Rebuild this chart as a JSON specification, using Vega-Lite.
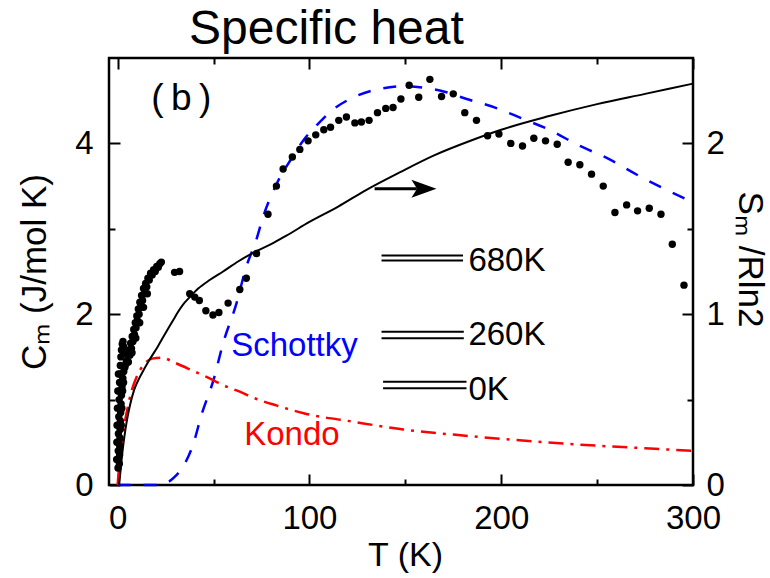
{
  "$schema": "https://vega.github.io/schema/vega-lite/v6.json",
  "width": 584,
  "height": 427,
  "autosize": "none",
  "padding": {"left": 109, "top": 58, "right": 77, "bottom": 93},
  "background": "white",
  "config": {
    "view": {"stroke": "black", "strokeWidth": 2.5},
    "font": "Liberation Sans",
    "axis": {
      "domain": false, "grid": false, "tickColor": "black", "tickWidth": 2,
      "labelColor": "black", "labelFont": "Liberation Sans", "labelFontSize": 33,
      "labelFlush": false, "labelOverlap": false,
      "titleFont": "Liberation Sans", "titleFontSize": 34, "titleFontWeight": "normal", "titleColor": "black"
    }
  },
  "title": {"text": "Specific heat", "fontSize": 48, "font": "Liberation Sans", "fontWeight": "normal", "color": "black", "anchor": "start", "frame": "group", "dx": 80, "dy": 50, "baseline": "alphabetic", "offset": 15},
  "datasets": {
    "points": [
      {"T":0.2,"C":0.2},{"T":0.3,"C":0.3},{"T":0.3,"C":0.4},{"T":0.4,"C":0.5},{"T":0.4,"C":0.6},{"T":0.5,"C":0.7},{"T":0.6,"C":0.8},{"T":0.7,"C":0.9},{"T":0.8,"C":1.0},{"T":0.9,"C":1.1},{"T":1.0,"C":1.2},{"T":1.2,"C":1.3},{"T":1.4,"C":1.4},{"T":1.7,"C":1.5},{"T":2.0,"C":1.58},{"T":2.4,"C":1.65},{"T":2.8,"C":1.68},{"T":3.1,"C":1.62},{"T":3.3,"C":1.54},
      {"T":0.9,"C":0.25},{"T":1.0,"C":0.35},{"T":1.1,"C":0.45},{"T":1.2,"C":0.55},{"T":1.3,"C":0.65},{"T":1.4,"C":0.75},{"T":1.6,"C":0.85},{"T":1.8,"C":0.95},{"T":2.0,"C":1.05},{"T":2.3,"C":1.15},{"T":2.7,"C":1.25},{"T":3.2,"C":1.33},{"T":3.8,"C":1.38},{"T":4.4,"C":1.42},
      {"T":-0.5,"C":0.3},{"T":-0.4,"C":0.5},{"T":-0.3,"C":0.7},{"T":-0.1,"C":0.9},{"T":0.1,"C":1.1},{"T":0.4,"C":1.3},{"T":1.9,"C":0.7},{"T":2.2,"C":0.9},{"T":2.6,"C":1.1},{"T":3.1,"C":1.2},
      {"T":4.6,"C":1.45},{"T":5.2,"C":1.52},{"T":5.6,"C":1.44},{"T":6.0,"C":1.58},{"T":6.4,"C":1.52},{"T":6.8,"C":1.66},{"T":7.2,"C":1.6},{"T":7.6,"C":1.74},{"T":8.0,"C":1.68},{"T":8.4,"C":1.82},{"T":8.8,"C":1.76},{"T":9.2,"C":1.9},{"T":9.6,"C":1.84},{"T":10.0,"C":1.98},{"T":10.4,"C":1.92},{"T":10.8,"C":2.06},{"T":11.2,"C":2.0},{"T":11.6,"C":2.14},{"T":12.0,"C":2.08},{"T":12.5,"C":2.22},{"T":13.0,"C":2.16},{"T":13.5,"C":2.3},{"T":14.0,"C":2.24},{"T":14.6,"C":2.36},{"T":15.2,"C":2.32},{"T":15.8,"C":2.42},{"T":16.5,"C":2.4},{"T":17.2,"C":2.48},{"T":18.0,"C":2.46},{"T":18.8,"C":2.52},{"T":19.6,"C":2.5},{"T":20.4,"C":2.56},{"T":21.2,"C":2.55},{"T":22.0,"C":2.59},{"T":22.8,"C":2.61},
      {"T":7.5,"C":1.55},{"T":9.5,"C":1.72},{"T":11.5,"C":1.9},{"T":13.5,"C":2.08},{"T":15.5,"C":2.24},
      {"T":29.7,"C":2.49},{"T":32.3,"C":2.5},{"T":37.6,"C":2.24},{"T":40.2,"C":2.2},{"T":42.6,"C":2.16},{"T":46.0,"C":2.04},{"T":49.7,"C":1.99},{"T":52.8,"C":2.02},{"T":57.6,"C":2.13},{"T":63.7,"C":2.29},{"T":67.1,"C":2.42},{"T":72.4,"C":2.71},{"T":78.4,"C":3.17},{"T":82.8,"C":3.5},{"T":86.3,"C":3.7},{"T":91.1,"C":3.84},{"T":95.0,"C":3.93},{"T":99.3,"C":4.03},{"T":103.3,"C":4.1},{"T":107.5,"C":4.16},{"T":111.0,"C":4.19},{"T":115.3,"C":4.27},{"T":119.3,"C":4.31},{"T":123.7,"C":4.24},{"T":127.1,"C":4.25},{"T":131.1,"C":4.27},{"T":135.5,"C":4.36},{"T":139.8,"C":4.41},{"T":143.6,"C":4.42},{"T":147.7,"C":4.52},{"T":152.0,"C":4.68},{"T":157.0,"C":4.54},{"T":162.8,"C":4.75},{"T":168.9,"C":4.55},{"T":175.0,"C":4.58},{"T":181.0,"C":4.36},{"T":187.1,"C":4.27},{"T":192.9,"C":4.09},{"T":198.8,"C":4.11},{"T":205.0,"C":4.0},{"T":211.1,"C":3.97},{"T":217.0,"C":4.06},{"T":223.1,"C":4.03},{"T":229.2,"C":3.99},{"T":234.9,"C":3.78},{"T":241.0,"C":3.75},{"T":247.1,"C":3.64},{"T":253.2,"C":3.5},{"T":259.3,"C":3.19},{"T":265.4,"C":3.28},{"T":271.1,"C":3.21},{"T":277.2,"C":3.24},{"T":283.3,"C":3.17},{"T":289.2,"C":2.82},{"T":295.3,"C":2.34}
    ],
    "schottky": [
      {"T":0,"C":0},{"T":20,"C":0},{"T":25,"C":0.02},{"T":30,"C":0.1},{"T":35,"C":0.25},{"T":39,"C":0.45},{"T":44,"C":0.84},{"T":50,"C":1.23},{"T":55,"C":1.66},{"T":62,"C":2.13},{"T":67,"C":2.55},{"T":72,"C":2.85},{"T":76,"C":3.15},{"T":83,"C":3.53},{"T":90,"C":3.8},{"T":97,"C":4.04},{"T":105,"C":4.24},{"T":112,"C":4.39},{"T":123,"C":4.54},{"T":137,"C":4.64},{"T":150,"C":4.67},{"T":160,"C":4.65},{"T":168,"C":4.62},{"T":182,"C":4.52},{"T":198,"C":4.41},{"T":211,"C":4.29},{"T":225,"C":4.16},{"T":241,"C":3.97},{"T":255,"C":3.83},{"T":271,"C":3.63},{"T":284,"C":3.48},{"T":300,"C":3.31}
    ],
    "kondo": [
      {"T":0,"C":0},{"T":1,"C":0.27},{"T":2,"C":0.45},{"T":3.5,"C":0.7},{"T":5,"C":0.88},{"T":7,"C":1.08},{"T":10,"C":1.27},{"T":14,"C":1.42},{"T":18,"C":1.48},{"T":23,"C":1.49},{"T":30,"C":1.43},{"T":40,"C":1.33},{"T":46,"C":1.27},{"T":57,"C":1.15},{"T":64,"C":1.09},{"T":71,"C":1.02},{"T":83,"C":0.93},{"T":97,"C":0.84},{"T":123,"C":0.74},{"T":149,"C":0.65},{"T":175,"C":0.59},{"T":206,"C":0.53},{"T":250,"C":0.46},{"T":275,"C":0.43},{"T":300,"C":0.4}
    ],
    "entropy": [
      {"T":0.8,"S":0},{"T":2,"S":0.14},{"T":3,"S":0.24},{"T":4,"S":0.32},{"T":5.2,"S":0.4},{"T":6.5,"S":0.47},{"T":8.7,"S":0.56},{"T":11.5,"S":0.63},{"T":13.9,"S":0.68},{"T":17,"S":0.74},{"T":20.9,"S":0.81},{"T":25,"S":0.89},{"T":28.7,"S":0.96},{"T":31.3,"S":1.01},{"T":34,"S":1.055},{"T":37.6,"S":1.1},{"T":42,"S":1.15},{"T":48,"S":1.2},{"T":55,"S":1.25},{"T":63,"S":1.31},{"T":72.5,"S":1.37},{"T":80,"S":1.41},{"T":88,"S":1.46},{"T":100,"S":1.54},{"T":115,"S":1.63},{"T":130,"S":1.73},{"T":147,"S":1.83},{"T":165,"S":1.93},{"T":185,"S":2.02},{"T":200,"S":2.08},{"T":225,"S":2.16},{"T":250,"S":2.23},{"T":275,"S":2.29},{"T":300,"S":2.35}
    ],
    "levels": [
      {"T":137.6,"T2":180.1,"C":2.687},{"T":137.6,"T2":180.1,"C":2.629},
      {"T":137.6,"T2":180.5,"C":1.795},{"T":137.6,"T2":180.5,"C":1.718},
      {"T":138.4,"T2":181.9,"C":1.21},{"T":138.4,"T2":181.9,"C":1.132}
    ],
    "levelLabels": [
      {"T":182.9,"C":2.506,"text":"680K"},{"T":182.9,"C":1.639,"text":"260K"},{"T":182.9,"C":0.995,"text":"0K"}
    ],
    "panelLabel": [{"T":17.5,"C":4.39,"text":"(\u2009b\u2009)"}],
    "schLabel": [{"T":59.2,"C":1.511,"text":"Schottky"}],
    "kondoLabel": [{"T":66.0,"C":0.468,"text":"Kondo"}],
    "arrow": [{"T":134,"T2":156,"C":3.47}],
    "arrowHead": [{"T":159.7,"C":3.47}]
  },
  "layer": [
    {
      "layer": [
        {
          "data": {"name": "schottky"},
          "mark": {"type": "line", "color": "#0000ff", "strokeWidth": 2.5, "strokeDash": [13, 13], "interpolate": "monotone"},
          "encoding": {
            "x": {"field": "T", "type": "quantitative", "scale": {"domain": [-4.5, 300], "nice": false, "zero": false},
              "axis": {"orient": "bottom", "values": [0, 50, 100, 150, 200, 250, 300], "labelExpr": "datum.value % 100 === 0 ? datum.label : ''",
                "tickSize": {"condition": {"test": "datum.value % 100 === 0", "value": -11}, "value": -6}, "labelPadding": 28,
                "title": "T (K)", "titleBaseline": "alphabetic", "titleY": 80, "titleX": 296}},
            "y": {"field": "C", "type": "quantitative", "scale": {"domain": [0, 5], "nice": false},
              "axis": {"orient": "left", "values": [0, 1, 2, 3, 4], "labelExpr": "datum.value % 2 === 0 ? format(datum.value, 'd') : ''",
                "tickSize": {"condition": {"test": "datum.value % 2 === 0", "value": -11}, "value": -6}, "labelPadding": 27,
                "title": "Cₘ (J/mol K)", "titleFontSize": 35, "titleBaseline": "alphabetic", "titleX": -64}}
          }
        },
        {
          "data": {"name": "kondo"},
          "mark": {"type": "line", "color": "#ff0000", "strokeWidth": 2.5, "strokeDash": [15, 7, 3, 7], "interpolate": "monotone"},
          "encoding": {
            "x": {"field": "T", "type": "quantitative"},
            "y": {"field": "C", "type": "quantitative"}
          }
        },
        {
          "data": {"name": "points"},
          "mark": {"type": "circle", "color": "black", "size": 55, "opacity": 1},
          "encoding": {
            "x": {"field": "T", "type": "quantitative"},
            "y": {"field": "C", "type": "quantitative"}
          }
        },
        {
          "data": {"name": "levels"},
          "mark": {"type": "rule", "color": "black", "strokeWidth": 2},
          "encoding": {
            "x": {"field": "T", "type": "quantitative"},
            "x2": {"field": "T2"},
            "y": {"field": "C", "type": "quantitative"}
          }
        },
        {
          "data": {"name": "arrow"},
          "mark": {"type": "rule", "color": "black", "strokeWidth": 3},
          "encoding": {
            "x": {"field": "T", "type": "quantitative"},
            "x2": {"field": "T2"},
            "y": {"field": "C", "type": "quantitative"}
          }
        },
        {
          "data": {"name": "arrowHead"},
          "mark": {"type": "point", "filled": true, "color": "black", "opacity": 1, "size": 625, "shape": "M 1 0 L -1 -0.72 L -0.55 0 L -1 0.72 Z"},
          "encoding": {
            "x": {"field": "T", "type": "quantitative"},
            "y": {"field": "C", "type": "quantitative"}
          }
        },
        {
          "data": {"name": "levelLabels"},
          "mark": {"type": "text", "color": "black", "fontSize": 33, "align": "left", "baseline": "alphabetic", "font": "Liberation Sans"},
          "encoding": {
            "x": {"field": "T", "type": "quantitative"},
            "y": {"field": "C", "type": "quantitative"},
            "text": {"field": "text"}
          }
        },
        {
          "data": {"name": "panelLabel"},
          "mark": {"type": "text", "color": "black", "fontSize": 37, "align": "left", "baseline": "alphabetic", "font": "Liberation Sans"},
          "encoding": {
            "x": {"field": "T", "type": "quantitative"},
            "y": {"field": "C", "type": "quantitative"},
            "text": {"field": "text"}
          }
        },
        {
          "data": {"name": "schLabel"},
          "mark": {"type": "text", "color": "#0000ff", "fontSize": 33, "align": "left", "baseline": "alphabetic", "font": "Liberation Sans"},
          "encoding": {
            "x": {"field": "T", "type": "quantitative"},
            "y": {"field": "C", "type": "quantitative"},
            "text": {"field": "text"}
          }
        },
        {
          "data": {"name": "kondoLabel"},
          "mark": {"type": "text", "color": "#ff0000", "fontSize": 33, "align": "left", "baseline": "alphabetic", "font": "Liberation Sans"},
          "encoding": {
            "x": {"field": "T", "type": "quantitative"},
            "y": {"field": "C", "type": "quantitative"},
            "text": {"field": "text"}
          }
        }
      ]
    },
    {
      "data": {"name": "entropy"},
      "mark": {"type": "line", "color": "black", "strokeWidth": 2, "interpolate": "monotone"},
      "encoding": {
        "x": {"field": "T", "type": "quantitative",
          "axis": {"orient": "top", "values": [0, 50, 100, 150, 200, 250, 300], "labels": false, "title": null,
            "tickSize": {"condition": {"test": "datum.value % 100 === 0", "value": -11}, "value": -6}}},
        "y": {"field": "S", "type": "quantitative", "scale": {"domain": [0, 2.5], "nice": false},
          "axis": {"orient": "right", "values": [0, 0.5, 1, 1.5, 2], "labelExpr": "datum.value % 1 === 0 ? format(datum.value, 'd') : ''",
            "tickSize": {"condition": {"test": "datum.value % 1 === 0", "value": -11}, "value": -6}, "labelPadding": 24,
            "title": "Sₘ /Rln2", "titleFontSize": 35, "titleBaseline": "alphabetic", "titleX": 45, "titleY": 201}}
      }
    }
  ],
  "resolve": {"scale": {"y": "independent"}, "axis": {"x": "independent", "y": "independent"}}
}
